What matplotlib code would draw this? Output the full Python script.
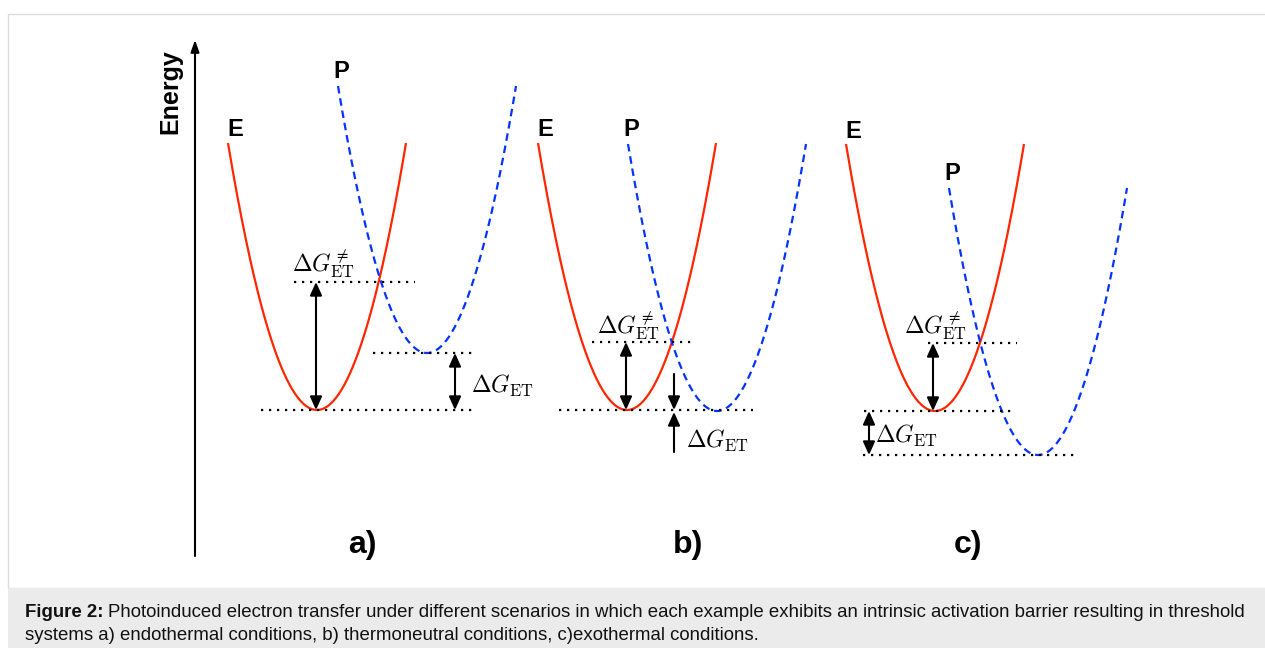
import numpy as np
import matplotlib
matplotlib.use("Agg")
import matplotlib.pyplot as plt
from matplotlib.patches import Rectangle

plt.rcParams['font.family'] = ['Liberation Sans', 'DejaVu Sans']
plt.rcParams['mathtext.fontset'] = 'cm'

# ---------------- data (energy units, arbitrary; x in diagram units) ----------
panel_labels = ['a)', 'b)', 'c)']
E_center = [317, 627, 935]      # minimum position of reactant (E) parabola
E_min = [238, 238, 237]         # minimum energy of E parabola
P_center = [427, 717, 1038]     # minimum position of product (P) parabola
P_min = [295, 237, 193]         # minimum energy of P parabola
TS_level = [366, 306, 305]      # crossing (transition-state) energy
curve_halfwidth = 89            # horizontal extent of each parabola from its minimum
curve_rise = 267                # energy rise at the parabola ends

caption_bold = "Figure 2:"
caption_line1 = ("Photoinduced electron transfer under different scenarios in which each "
                 "example exhibits an intrinsic activation barrier resulting in threshold")
caption_line2 = "systems a) endothermal conditions, b) thermoneutral conditions, c)exothermal conditions."

# ---------------- figure -------------------------------------------------------
W, H = 1265, 648
fig = plt.figure(figsize=(W / 100, H / 100), dpi=100)
ax = fig.add_axes([0, 0, 1, 1])
ax.set_xlim(0, W)
ax.set_ylim(0, H)
ax.axis('off')

def Y(py):
    """pixel row (from top) -> axis units"""
    return H - py

# frame and caption band
ax.add_patch(Rectangle((8, Y(588)), W, 588 - 14, fill=False, ec='#dcdcdc', lw=1.0))
ax.add_patch(Rectangle((8, 0), W, Y(588), fc='#ebebeb', ec='none'))

RED = '#ff2600'
BLUE = '#0433ff'
HEAD = ',head_length=0.8,head_width=0.36'

# energy axis
ax.annotate('', xy=(195, Y(40)), xytext=(195, Y(556)),
            arrowprops=dict(arrowstyle='-|>' + ',head_length=0.7,head_width=0.25', lw=1.5,
                            color='black', shrinkA=0, shrinkB=0))
ax.text(170, Y(92), 'Energy', rotation=90, ha='center', va='center',
        fontsize=18, fontweight='bold')

# dotted helper lines per panel: (x_start, x_end, level key)
dotted = [
    [(294, 415, 'TS'), (261, 474, 'E'), (373, 474, 'P')],
    [(592, 692, 'TS'), (559, 753, 'E')],
    [(928, 1017, 'TS'), (864, 1013, 'E'), (863, 1077, 'P')],
]
barrier_lbl = [(292, 10), (597, 8), (904, 9)]
dg_label_pos = [(471, 255), (686, 200), (875, 205)]
dg_arrow_x = [455, 674, 869]
panel_lbl_x = [362, 688, 968]

def arrow(x, y1, y2, style='<|-|>'):
    ax.annotate('', xy=(x, y2), xytext=(x, y1),
                arrowprops=dict(arrowstyle=style + HEAD,
                                lw=1.5, color='black', shrinkA=0, shrinkB=0))

for i in range(3):
    levels = {'TS': TS_level[i], 'E': E_min[i], 'P': P_min[i]}
    # parabolas
    k = curve_rise / curve_halfwidth ** 2
    xe = np.linspace(E_center[i] - curve_halfwidth, E_center[i] + curve_halfwidth, 200)
    ax.plot(xe, E_min[i] + k * (xe - E_center[i]) ** 2, color=RED, lw=1.6,
            solid_capstyle='butt')
    xp = np.linspace(P_center[i] - curve_halfwidth, P_center[i] + curve_halfwidth, 200)
    ax.plot(xp, P_min[i] + k * (xp - P_center[i]) ** 2, color=BLUE, lw=1.6,
            ls=(0, (3.4, 2.2)), dash_capstyle='butt')
    # E / P labels
    ax.text(E_center[i] - curve_halfwidth + 7, E_min[i] + curve_rise + 13, 'E',
            ha='center', va='center', fontsize=17, fontweight='bold')
    ax.text(P_center[i] - curve_halfwidth + 3, P_min[i] + curve_rise + 14, 'P',
            ha='center', va='center', fontsize=17, fontweight='bold')
    # dotted lines
    for x1, x2, key in dotted[i]:
        ax.plot([x1, x2], [levels[key]] * 2, color='black', lw=1.6,
                ls=(0, (1, 2.6)), dash_capstyle='butt')
    # barrier arrow
    arrow(E_center[i] - 1 if i != 2 else E_center[i] - 2, E_min[i], TS_level[i])
    bx, boff = barrier_lbl[i]
    ax.text(bx, TS_level[i] + boff, r'$\Delta G_{\mathrm{ET}}^{\neq}$', fontsize=17,
            ha='left', va='baseline')
    # reaction free energy arrow(s)
    if abs(P_min[i] - E_min[i]) < 3:
        arrow(dg_arrow_x[i], E_min[i] + 36, E_min[i], style='-|>')
        arrow(dg_arrow_x[i], E_min[i] - 42, E_min[i] - 2, style='-|>')
    else:
        arrow(dg_arrow_x[i], E_min[i], P_min[i])
    lx, ly = dg_label_pos[i]
    ax.text(lx, ly, r'$\Delta G_{\mathrm{ET}}$', fontsize=17, ha='left', va='baseline')
    # panel label
    ax.text(panel_lbl_x[i], Y(545), panel_labels[i], ha='center', va='center',
            fontsize=23, fontweight='bold')

# caption
CAP_FS = 13.4
CAP_X = 25
t1 = ax.text(CAP_X, Y(617), caption_bold, ha='left', va='baseline', fontsize=CAP_FS,
             fontweight='bold', color='#111111')
fig.canvas.draw()
r = fig.canvas.get_renderer()
bb = t1.get_window_extent(r)
ax.text(bb.x1 + 4, Y(617), caption_line1, ha='left', va='baseline', fontsize=CAP_FS,
        color='#111111')
ax.text(CAP_X, Y(640), caption_line2, ha='left', va='baseline', fontsize=CAP_FS,
        color='#111111')

fig.savefig('out.png', dpi=100)
